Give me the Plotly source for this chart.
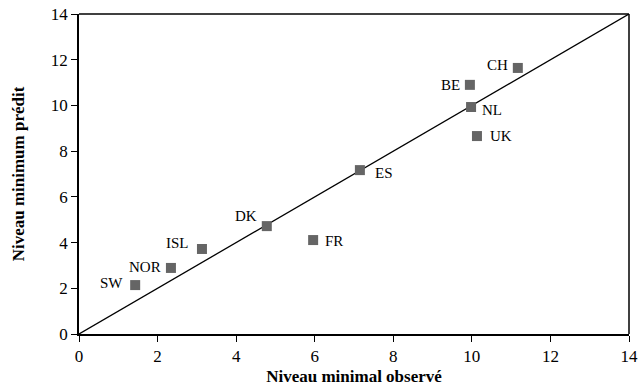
import plotly.graph_objects as go

countries = ["SW", "NOR", "ISL", "DK", "FR", "ES", "NL", "BE", "UK", "CH"]
observed = [1.43, 2.34, 3.13, 4.78, 5.96, 7.15, 9.98, 9.95, 10.13, 11.17]
predicted = [2.14, 2.89, 3.72, 4.72, 4.11, 7.17, 9.93, 10.9, 8.66, 11.64]
ref_line = [0, 14]
ticks = [0, 2, 4, 6, 8, 10, 12, 14]

# label placement: (xanchor, xshift, yshift)
placement = {
    "SW": ("right", -10, 2),
    "NOR": ("right", -8, 1),
    "ISL": ("right", -11, 6),
    "DK": ("right", -8, 10),
    "FR": ("left", 10, -1),
    "ES": ("left", 13, -3),
    "NL": ("left", 9, -3),
    "BE": ("right", -8, 0),
    "UK": ("left", 11, 0),
    "CH": ("right", -8, 3),
}

font_family = "Liberation Serif"

fig = go.Figure()
fig.add_trace(go.Scatter(x=ref_line, y=ref_line, mode="lines",
                         line=dict(color="black", width=1.3),
                         hoverinfo="skip", showlegend=False))
fig.add_trace(go.Scatter(x=observed, y=predicted, mode="markers",
                         marker=dict(symbol="square", size=10, color="#656565"),
                         text=countries, showlegend=False))

for c, xo, yp in zip(countries, observed, predicted):
    anchor, xs, ys = placement[c]
    fig.add_annotation(x=xo, y=yp, text=c, showarrow=False,
                       xanchor=anchor, yanchor="middle", xshift=xs, yshift=ys,
                       font=dict(family=font_family, size=15, color="black"))

axis_common = dict(
    range=[0, 14], tickvals=ticks, ticks="outside", ticklen=6, tickwidth=1.3,
    tickcolor="black", showline=True, linecolor="black", linewidth=1.5,
    showgrid=False, zeroline=False, mirror=False, automargin=False,
    tickfont=dict(family=font_family, size=17, color="black"),
)

fig.update_layout(
    width=639, height=386,
    margin=dict(l=79, r=10, t=14, b=52),
    paper_bgcolor="white", plot_bgcolor="white",
    xaxis=dict(**axis_common,
               title=dict(text="<b>Niveau minimal observé</b>", standoff=6,
                          font=dict(family=font_family, size=17, color="black"))),
    yaxis=dict(**axis_common,
               title=dict(text="<b>Niveau minimum prédit</b>", standoff=22,
                          font=dict(family=font_family, size=17, color="black"))),
    shapes=[
        dict(type="line", xref="paper", yref="paper", x0=0, x1=1, y0=1, y1=1,
             line=dict(color="black", width=1.5)),
        dict(type="line", xref="paper", yref="paper", x0=1, x1=1, y0=0, y1=1,
             line=dict(color="black", width=1.5)),
    ],
)

fig.write_html("out.html", config={"displayModeBar": False},
               post_script="document.body.style.margin='0';document.body.style.padding='0';")
